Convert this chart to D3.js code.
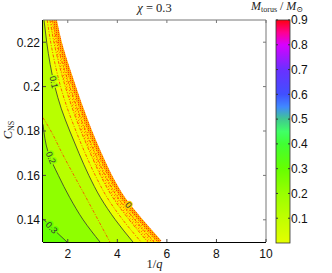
<!DOCTYPE html>
<html><head><meta charset="utf-8">
<script src="https://cdn.jsdelivr.net/npm/d3@7"></script>
<style>body{margin:0;background:#fff}</style>
</head><body><div id="viz"></div>
<script>
// contour lines, x = 1/q at each C_NS of cGrid
var cGrid   = [0.23,0.22,0.21,0.20,0.19,0.18,0.17,0.16,0.15,0.14,0.13];
var edge0   = [1.48,1.68,1.95,2.25,2.56,2.90,3.28,3.70,4.22,4.93,5.72];
var level01 = [1.04,1.15,1.29,1.48,1.74,2.08,2.45,2.85,3.32,3.92,4.63];
// red dash-dot curves inside the 0-0.1 band
var redA    = [1.17,1.31,1.49,1.71,1.99,2.33,2.70,3.11,3.59,4.22,4.96];
var redB    = [1.28,1.44,1.65,1.90,2.19,2.53,2.91,3.32,3.82,4.48,5.23];
var redC    = [1.38,1.56,1.80,2.08,2.38,2.72,3.10,3.51,4.02,4.71,5.48];
// lines that start on the left edge: [1/q, C_NS]
var level02 = [[1.0,0.183],[1.22,0.17],[1.62,0.16],[2.08,0.15],[2.62,0.14],[3.30,0.13]];
var level03 = [[1.0,0.1405],[1.40,0.136],[1.97,0.13]];
var redD    = [[1.0,0.186],[1.32,0.18],[1.77,0.17],[2.25,0.16],[2.74,0.15],[3.22,0.14],[3.70,0.13]];

var labels = [
  {t:'0.1', v:1.44, c:0.202, line:'l01'},
  {t:'0.2', v:1.32, c:0.168, line:'l02'},
  {t:'0.3', v:1.35, c:0.1365, line:'l03'},
  {t:'0',   v:4.45, c:0.1467, line:'l00'}
];

var xTicks  = [2,4,6,8,10];
var yTicks  = [0.14,0.16,0.18,0.2,0.22];
var cbTicks = [0.1,0.2,0.3,0.4,0.5,0.6,0.7,0.8,0.9];
var cmapVals = [0,0.1,0.2,0.3,0.4,0.45,0.5,0.55,0.6,0.7,0.8,0.85,0.9];
var cmapCols = ['#e4ff00','#c0ff00','#99ff00','#66ff00','#40ff33','#40ff66','#40c890','#4088ff','#4050ff','#6a30ff','#d800ff','#ff0090','#ff0010'];

var width = 332, height = 273;
var L = 43, R = 266, T = 20, B = 242;

var x = d3.scaleLinear().domain([1,10]).range([L,R]);
var y = d3.scaleLinear().domain([0.13,0.23]).range([B,T]);
var cb = d3.scaleLinear().domain([0,0.9]).range([243,20]);
var cmap = d3.scaleLinear().domain(cmapVals).range(cmapCols);

function zip(a){ return a.map(function(v,i){ return [v,cGrid[i]]; }); }

var l00 = zip(edge0), l01 = zip(level01);
var lines = {l00:l00, l01:l01, l02:level02, l03:level03};

var svg = d3.select('#viz').append('svg')
  .attr('width', width).attr('height', height)
  .style('font-family', 'Liberation Sans, Arial, sans-serif');

var defs = svg.append('defs');
defs.append('clipPath').attr('id','clip').append('rect')
  .attr('x',L).attr('y',T).attr('width',R-L).attr('height',B-T);

// dotted texture of the noisy rim
var pat = defs.append('pattern').attr('id','speck')
  .attr('width',3).attr('height',3).attr('patternUnits','userSpaceOnUse');
pat.append('rect').attr('width',3).attr('height',3).attr('fill','#ffe800');
pat.append('rect').attr('width',1).attr('height',1).attr('fill','#ff7a00');
pat.append('rect').attr('x',1).attr('y',2).attr('width',1).attr('height',1).attr('fill','#ffb000');
var pat2 = defs.append('pattern').attr('id','speck2')
  .attr('width',2).attr('height',2).attr('patternUnits','userSpaceOnUse');
pat2.append('rect').attr('width',2).attr('height',2).attr('fill','#ffb000');
pat2.append('rect').attr('width',1).attr('height',1).attr('fill','#ff4000');

var grad = defs.append('linearGradient').attr('id','cbar')
  .attr('x1',0).attr('y1',1).attr('x2',0).attr('y2',0);
cmapVals.forEach(function(v,i){
  grad.append('stop').attr('offset', v/0.9).attr('stop-color', cmapCols[i]);
});

var g = svg.append('g').attr('clip-path','url(#clip)');

var area = d3.area()
  .y(function(d){ return y(d[1]); })
  .x0(x(1))
  .x1(function(d){ return x(d[0]); })
  .curve(d3.curveMonotoneY);

var line = d3.line()
  .x(function(d){ return x(d[0]); })
  .y(function(d){ return y(d[1]); })
  .curve(d3.curveMonotoneY);

// filled bands, outermost first
g.append('path').attr('d', area(l00)).attr('fill', '#eeff00');
g.append('path').attr('d', area(l01)).attr('fill', cmap(0.12));
g.append('path').attr('d', area(level02)).attr('fill', cmap(0.22));
g.append('path').attr('d', area(level03)).attr('fill', cmap(0.3));

// speckled rim near the zero contour
var rim = d3.area()
  .y(function(d,i){ return y(cGrid[i]); })
  .x0(function(d,i){ return x(redB[i]); })
  .x1(function(d,i){ return x(edge0[i]); })
  .curve(d3.curveMonotoneY);
g.append('path').attr('d', rim(edge0)).attr('fill','url(#speck)');

// red dash-dot curves
[zip(redA), zip(redB), zip(redC), redD].forEach(function(d){
  g.append('path').attr('d', line(d))
    .attr('fill','none').attr('stroke','#ff3a00')
    .attr('stroke-width',0.8).attr('stroke-dasharray','3,1.5,1,1.5');
});

// dense outer edge of the rim
g.append('path').attr('d', line(l00))
  .attr('fill','none').attr('stroke','url(#speck2)').attr('stroke-width',4);

// black contour lines
[l01, level02, level03].forEach(function(d){
  g.append('path').attr('d', line(d))
    .attr('fill','none').attr('stroke','#333').attr('stroke-width',0.8);
});

// inline contour labels
var bandFill = {l00:'#ffd000', l01:cmap(0.12), l02:cmap(0.22), l03:cmap(0.3)};
labels.forEach(function(lb){
  var pts = lines[lb.line], a = pts[0], b = pts[1];
  for (var i=0;i<pts.length-1;i++){
    if (pts[i][1] >= lb.c && pts[i+1][1] <= lb.c){ a = pts[i]; b = pts[i+1]; }
  }
  var ang = Math.atan2(y(b[1])-y(a[1]), x(b[0])-x(a[0]))*180/Math.PI;
  g.append('text')
    .attr('transform','translate('+x(lb.v)+','+y(lb.c)+') rotate('+ang+')')
    .attr('text-anchor','middle').attr('dy','0.35em')
    .attr('font-size',9).attr('fill','#333')
    .attr('stroke', bandFill[lb.line]).attr('stroke-width',3)
    .attr('paint-order','stroke')
    .text(lb.t);
});

// axes box
var ax = svg.append('g');
ax.append('line').attr('x1',L).attr('x2',R).attr('y1',T).attr('y2',T).attr('stroke','#777');
ax.append('line').attr('x1',R).attr('x2',R).attr('y1',T).attr('y2',B).attr('stroke','#777');
ax.append('line').attr('x1',L).attr('x2',R).attr('y1',B+0.5).attr('y2',B+0.5).attr('stroke','#000');
ax.append('line').attr('x1',L-0.5).attr('x2',L-0.5).attr('y1',T).attr('y2',B).attr('stroke','#000');

xTicks.forEach(function(t){
  ax.append('line').attr('x1',x(t)).attr('x2',x(t)).attr('y1',B).attr('y2',B-3).attr('stroke','#444');
  ax.append('line').attr('x1',x(t)).attr('x2',x(t)).attr('y1',T).attr('y2',T+3).attr('stroke','#777');
  ax.append('text').attr('x',x(t)).attr('y',B+16).attr('text-anchor','middle')
    .attr('font-size',12).attr('fill','#111').text(t);
});
yTicks.forEach(function(t){
  ax.append('line').attr('x1',L).attr('x2',L+3).attr('y1',y(t)).attr('y2',y(t)).attr('stroke','#444');
  ax.append('line').attr('x1',R).attr('x2',R-3).attr('y1',y(t)).attr('y2',y(t)).attr('stroke','#777');
  ax.append('text').attr('x',L-3).attr('y',y(t)).attr('dy','0.36em').attr('text-anchor','end')
    .attr('font-size',12).attr('fill','#111').text(t);
});

// colorbar
var cbx = 276, cbw = 14;
svg.append('rect').attr('x',cbx).attr('y',cb(0.9)).attr('width',cbw).attr('height',cb(0)-cb(0.9))
  .attr('fill','url(#cbar)').attr('stroke','#333').attr('stroke-width',0.8);
cbTicks.forEach(function(t){
  svg.append('line').attr('x1',cbx).attr('x2',cbx+2).attr('y1',cb(t)).attr('y2',cb(t)).attr('stroke','#333');
  svg.append('line').attr('x1',cbx+cbw).attr('x2',cbx+cbw-2).attr('y1',cb(t)).attr('y2',cb(t)).attr('stroke','#333');
  svg.append('text').attr('x',cbx+cbw+1).attr('y',cb(t)).attr('dy','0.36em')
    .attr('font-size',12).attr('fill','#111').text(d3.format('.1f')(t));
});

// titles and labels
var serif = 'Liberation Serif, DejaVu Serif, serif';
var title = svg.append('text').attr('x',(L+R)/2).attr('y',12).attr('text-anchor','middle')
  .attr('font-family',serif).attr('font-size',12.5).attr('fill','#222');
title.append('tspan').attr('font-style','italic').text('χ');
title.append('tspan').text(' = 0.3');

var cbl = svg.append('text').attr('x',251).attr('y',10)
  .attr('font-family',serif).attr('font-size',12).attr('fill','#222');
cbl.append('tspan').attr('font-style','italic').text('M');
cbl.append('tspan').attr('font-size',8).attr('dy',2).text('torus');
cbl.append('tspan').attr('dy',-2).text(' / ');
cbl.append('tspan').attr('font-style','italic').text('M');
cbl.append('tspan').attr('font-size',8).attr('dy',1.5).text('⊙');

var xl = svg.append('text').attr('x',(L+R)/2).attr('y',268).attr('text-anchor','middle')
  .attr('font-family',serif).attr('font-size',12.5).attr('fill','#222');
xl.append('tspan').text('1/');
xl.append('tspan').attr('font-style','italic').text('q');

var yl = svg.append('text').attr('transform','translate(12,130) rotate(-90)').attr('text-anchor','middle')
  .attr('font-family',serif).attr('font-size',12.5).attr('fill','#222');
yl.append('tspan').attr('font-style','italic').text('C');
yl.append('tspan').attr('font-size',8).attr('dy',2).text('NS');
</script>
</body></html>
